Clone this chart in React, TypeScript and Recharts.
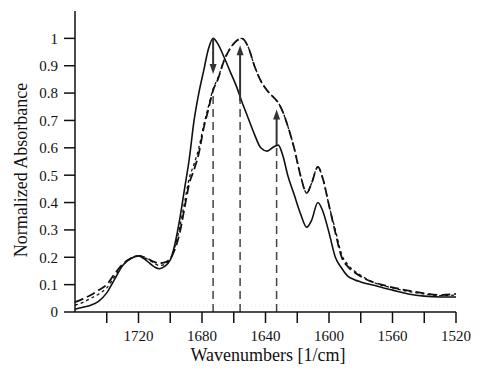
import {
  LineChart,
  Line,
  XAxis,
  YAxis,
  ReferenceLine,
  ReferenceDot,
} from "recharts";

// wavenumbers [1/cm], shared by the three spectra
const wavenumbers = [
  1760, 1755, 1750, 1745, 1740, 1735, 1730, 1725, 1720, 1715, 1710, 1707, 1704,
  1700, 1697, 1694, 1691, 1688, 1685, 1682, 1679, 1676, 1673, 1670, 1666, 1662,
  1658, 1655, 1651, 1647, 1643, 1639, 1635, 1632, 1629, 1626, 1622, 1618, 1614,
  1611, 1607, 1604, 1600, 1596, 1592, 1588, 1584, 1580, 1575, 1570, 1565, 1560,
  1550, 1540, 1530, 1520,
];

const solidSpectrum = [
  0.01, 0.017, 0.025, 0.04, 0.07, 0.12, 0.17, 0.195, 0.205, 0.188, 0.165, 0.158,
  0.165, 0.19, 0.25, 0.34, 0.45, 0.56, 0.7, 0.8, 0.88, 0.96, 1.0, 0.98, 0.93,
  0.875, 0.82, 0.77, 0.71, 0.65, 0.6, 0.588, 0.603, 0.61, 0.57, 0.5, 0.43, 0.36,
  0.31, 0.335, 0.4, 0.37, 0.29, 0.2, 0.16, 0.13, 0.118, 0.11, 0.102, 0.095,
  0.087, 0.08, 0.066, 0.058, 0.055, 0.055,
];

const dashedSpectrum = [
  0.036, 0.048, 0.062, 0.08, 0.1, 0.14, 0.175, 0.195, 0.205, 0.197, 0.183, 0.178,
  0.18, 0.195, 0.23, 0.29, 0.38, 0.47, 0.52, 0.58, 0.67, 0.74, 0.81, 0.85, 0.92,
  0.965, 0.992, 1.0, 0.97, 0.9, 0.845, 0.81, 0.785, 0.765, 0.73, 0.68, 0.6, 0.5,
  0.435, 0.47, 0.53, 0.49, 0.39, 0.29, 0.2, 0.165, 0.145, 0.13, 0.115, 0.105,
  0.097, 0.09, 0.078, 0.068, 0.062, 0.066,
];

const dottedSpectrum = [
  0.025, 0.035, 0.05, 0.066, 0.088, 0.13, 0.17, 0.196, 0.206, 0.195, 0.178,
  0.17, 0.173, 0.192, 0.24, 0.31, 0.4, 0.49, 0.54, 0.6, 0.68, 0.75, 0.815, 0.855,
  0.922, 0.966, 0.992, 1.0, 0.97, 0.9, 0.845, 0.81, 0.785, 0.765, 0.73, 0.68,
  0.6, 0.5, 0.435, 0.47, 0.53, 0.49, 0.39, 0.3, 0.21, 0.172, 0.15, 0.134, 0.117,
  0.104, 0.095, 0.088, 0.075, 0.066, 0.06, 0.062,
];

const xTicks = [1740, 1720, 1700, 1680, 1660, 1640, 1620, 1600, 1580, 1560, 1540, 1520];
const xLabelled = [1720, 1680, 1640, 1600, 1560, 1520];
const yTicks = [0, 0.1, 0.2, 0.3, 0.4, 0.5, 0.6, 0.7, 0.8, 0.9, 1];

// arrows: position, start value, tip value
const arrowPositions = [1673, 1656, 1633];
const arrowFrom = [1.0, 0.77, 0.61];
const arrowTo = [0.87, 0.975, 0.74];
// top of the dashed guide line under each arrow
const guideTop = [0.81, 0.77, 0.61];

const FONT = "'Liberation Serif', 'Times New Roman', serif";

const chartData = wavenumbers.map((w, i) => ({
  w,
  solid: solidSpectrum[i],
  dashed: dashedSpectrum[i],
  dotted: dottedSpectrum[i],
}));

function arrowHead(down: boolean) {
  return (props: any) => {
    const { cx, cy } = props;
    const h = 10;
    const hw = 3.5;
    const pts = down
      ? `${cx},${cy} ${cx - hw},${cy - h} ${cx + hw},${cy - h}`
      : `${cx},${cy} ${cx - hw},${cy + h} ${cx + hw},${cy + h}`;
    return <polygon points={pts} fill="#333" stroke="none" />;
  };
}

export default function App() {
  return (
    <div style={{ width: 480, height: 376, background: "#fff" }}>
      <style>{"body{margin:0}"}</style>
      <LineChart
        width={480}
        height={376}
        data={chartData}
        margin={{ top: 11, right: 24, left: 0, bottom: 0 }}
      >
        <XAxis
          dataKey="w"
          type="number"
          domain={[1520, 1760]}
          reversed
          ticks={xTicks}
          tickFormatter={(v) => (xLabelled.includes(v) ? String(v) : "")}
          tickSize={11}
          tickMargin={7}
          height={64}
          stroke="#111"
          strokeWidth={1.5}
          tick={{ fill: "#111", fontSize: 15, fontFamily: FONT }}
          label={{
            content: () => (
              <text
                x={268}
                y={361}
                textAnchor="middle"
                fontSize={18}
                fontFamily={FONT}
                fill="#111"
              >
                Wavenumbers [1/cm]
              </text>
            ),
          }}
        />
        <YAxis
          type="number"
          domain={[0, 1.1]}
          ticks={yTicks}
          tickFormatter={(v) => String(v)}
          width={75}
          tickSize={11}
          tickMargin={6}
          stroke="#111"
          strokeWidth={1.5}
          tick={{ fill: "#111", fontSize: 15, fontFamily: FONT }}
          label={{
            content: () => (
              <text
                x={23}
                y={170}
                transform="rotate(-90 23 170)"
                textAnchor="middle"
                dominantBaseline="middle"
                fontSize={18}
                fontFamily={FONT}
                fill="#111"
              >
                Normalized Absorbance
              </text>
            ),
          }}
        />
        <ReferenceLine
          y={0.025}
          stroke="#e4e4e4"
          strokeDasharray="1 3"
          strokeWidth={1}
        />
        {arrowPositions.map((x, i) => (
          <ReferenceLine
            key={`g${i}`}
            segment={[
              { x, y: 0 },
              { x, y: guideTop[i] },
            ]}
            stroke="#444"
            strokeWidth={1.5}
            strokeDasharray="8 5"
          />
        ))}
        <Line
          type="monotone"
          dataKey="dotted"
          stroke="#111"
          strokeWidth={1.3}
          strokeDasharray="3 3"
          dot={false}
          isAnimationActive={false}
        />
        <Line
          type="monotone"
          dataKey="dashed"
          stroke="#111"
          strokeWidth={1.8}
          strokeDasharray="9 4"
          dot={false}
          isAnimationActive={false}
        />
        <Line
          type="monotone"
          dataKey="solid"
          stroke="#111"
          strokeWidth={1.6}
          dot={false}
          isAnimationActive={false}
        />
        {arrowPositions.map((x, i) => (
          <ReferenceLine
            key={`a${i}`}
            segment={[
              { x, y: arrowFrom[i] },
              { x, y: arrowTo[i] + (arrowTo[i] < arrowFrom[i] ? 0.02 : -0.02) },
            ]}
            stroke="#333"
            strokeWidth={2}
          />
        ))}
        {arrowPositions.map((x, i) => (
          <ReferenceDot
            key={`h${i}`}
            x={x}
            y={arrowTo[i]}
            r={4}
            shape={arrowHead(arrowTo[i] < arrowFrom[i])}
          />
        ))}
      </LineChart>
    </div>
  );
}
